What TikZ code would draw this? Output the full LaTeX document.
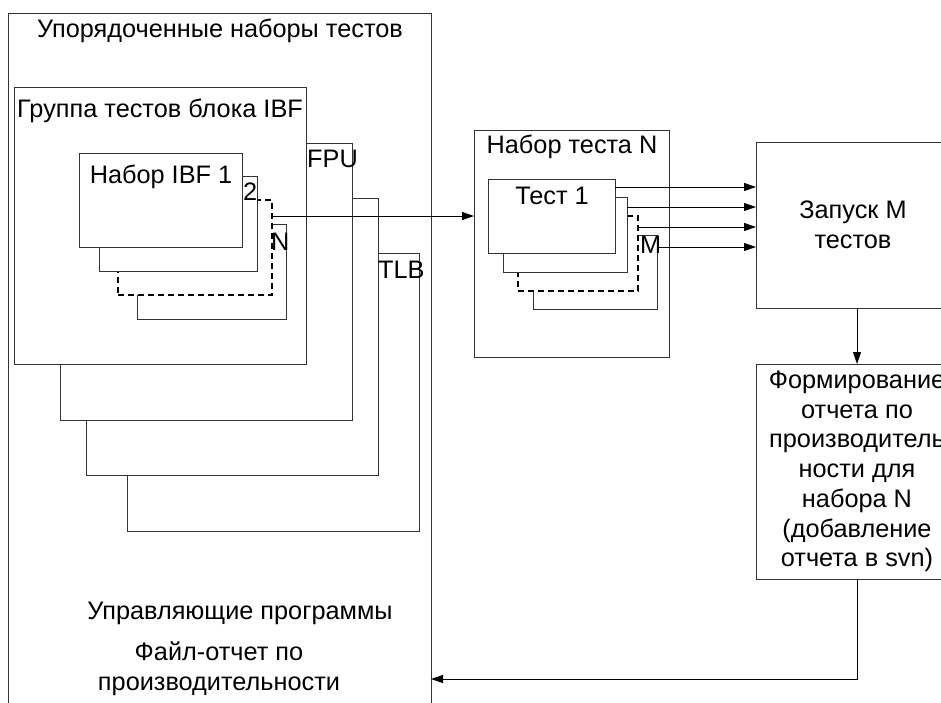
\documentclass[tikz,border=0pt]{standalone}
\usepackage{fontspec}
\setmainfont{Liberation Sans}
\usetikzlibrary{arrows.meta}

\tikzset{
    box/.style={draw=black!80, line width=1pt, fill=white, rectangle,
        inner sep=0pt, outer sep=0pt, anchor=north west},
    dbox/.style={box, draw=black, line width=1.6pt, dash pattern=on 6pt off 4pt},
    txt/.style={inner sep=0pt, anchor=base},
    arr/.style={draw=black, line width=1pt, -{Triangle[length=12pt,width=8pt]}},
}

\begin{document}
\begin{tikzpicture}[x=1pt, y=-1pt, font=\fontsize{25.3}{29.7}\selectfont]
    \useasboundingbox (0,0) rectangle (941,702);
    % outer frame (runs on past the page)
    \node[box, minimum width=423, minimum height=720] (order) at (8,13) {};
    \node[txt] (ordertxt) at (220,37) {Упорядоченные наборы тестов};

    % block groups, back to front
    \node[box, minimum width=292, minimum height=278] (tlb) at (127,253) {};
    \node[box, minimum width=292, minimum height=277] (grp3) at (86,198) {};
    \node[box, minimum width=292, minimum height=277] (fpu) at (60,143) {};
    \node[box, minimum width=292, minimum height=277] (ibf) at (14,87) {};
    \node[txt, anchor=base west] (ibftxt) at (17,117) {Группа тестов блока IBF};
    \node[txt, anchor=base west] (fputxt) at (307,167) {FPU};
    \node[txt, anchor=base west] (tlbtxt) at (378,278) {TLB};

    % sets of the IBF group
    \node[box, minimum width=149, minimum height=95] (setN) at (137,224) {};
    \node[dbox, minimum width=154, minimum height=95] (set3) at (118,200) {};
    \node[box, minimum width=158, minimum height=95] (set2) at (99,176) {};
    \node[box, minimum width=163, minimum height=94] (set1) at (79,153) {};
    \node[txt] (set1txt) at (161,183) {Набор IBF 1};
    \node[txt, anchor=base west] (set2txt) at (243,200) {2};
    \node[txt, anchor=base west] (setNtxt) at (271,250) {N};

    % one test set
    \node[box, minimum width=195, minimum height=227] (tset) at (474,130) {};
    \node[txt] (tsettxt) at (572,153) {Набор теста N};
    \node[box, minimum width=124, minimum height=74] (testM) at (533,235) {};
    \node[dbox, minimum width=120, minimum height=75] (test3) at (518,216) {};
    \node[box, minimum width=124, minimum height=75] (test2) at (503,197) {};
    \node[box, minimum width=127, minimum height=74] (test1) at (488,179) {};
    \node[txt] (test1txt) at (552,204) {Тест 1};
    \node[txt, anchor=base west] (testMtxt) at (640,253) {M};

    \node[box, anchor=center, minimum width=194, minimum height=166, align=center]
        (launch) at (853,225) {Запуск М\\тестов};
    \node[box, anchor=center, minimum width=202, minimum height=215, align=center]
        (report) at (857,471.5) {Формирование\\отчета по\\производитель\\ности для\\набора N\\(добавление\\отчета в svn)};

    % bottom of the frame
    \node[txt] (ctrl) at (240,619) {Управляющие программы};
    \node[align=center, inner sep=0pt] (perf) at (219,669) {Файл-отчет по\\производительности};

    % connectors
    \coordinate (o0) at ([yshift=-16pt]set3.north east);
    \draw[arr] (o0) -- (o0 -| tset.west);
    \coordinate (o1) at ([yshift=-8pt]test1.north east);
    \coordinate (o2) at ([yshift=-10pt]test2.north east);
    \coordinate (o3) at ([yshift=-11pt]test3.north east);
    \coordinate (o4) at ([yshift=-12pt]testM.north east);
    \foreach \o in {o1,o2,o3,o4}
        \draw[arr] (\o) -- (\o -| launch.west);
    \draw[arr] (launch.south -| report.north) -- (report.north);
    \coordinate (back) at (0,679);
    \draw[arr] (report.south) |- (order.east |- back);
\end{tikzpicture}
\end{document}
